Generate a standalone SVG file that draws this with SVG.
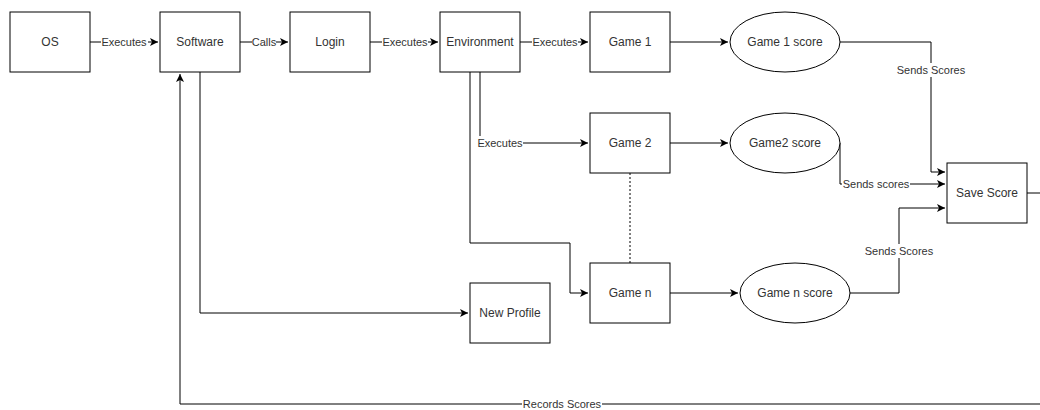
<svg xmlns="http://www.w3.org/2000/svg" width="1040" height="410" viewBox="0 0 1040 410">
<style>
.box{fill:#fff;stroke:#000;stroke-width:1}
.t{font-family:"Liberation Sans",Arial,sans-serif;font-size:12px;fill:#333;text-anchor:middle;dominant-baseline:central}
.e{font-family:"Liberation Sans",Arial,sans-serif;font-size:11px;fill:#333;text-anchor:middle;dominant-baseline:central}
.c{fill:none;stroke:#000;stroke-width:1}
.bg{fill:#fff}
</style>
<defs>
<marker id="arr" markerUnits="userSpaceOnUse" markerWidth="10" markerHeight="8" refX="8" refY="4" orient="auto">
<path d="M0,0 L8,4 L0,8 L2,4 Z" fill="#000"/>
</marker>
</defs>
<g id="connectors">
<path class="c" d="M90,42 H158" marker-end="url(#arr)"/>
<path class="c" d="M240,42 H288" marker-end="url(#arr)"/>
<path class="c" d="M370,42 H438" marker-end="url(#arr)"/>
<path class="c" d="M520,42 H588" marker-end="url(#arr)"/>
<path class="c" d="M670,42 H728" marker-end="url(#arr)"/>
<path class="c" d="M480,72 V143 H588" marker-end="url(#arr)"/>
<path class="c" d="M470,72 V243 H570 V293 H588" marker-end="url(#arr)"/>
<path class="c" d="M670,143 H728" marker-end="url(#arr)"/>
<path class="c" d="M670,293 H738" marker-end="url(#arr)"/>
<path class="c" d="M630,173 V263" stroke-dasharray="2,2"/>
<path class="c" d="M840,42 H931 V172 H945" marker-end="url(#arr)"/>
<path class="c" d="M840,143 V184 H945" marker-end="url(#arr)"/>
<path class="c" d="M850,293 H899 V208 H945" marker-end="url(#arr)"/>
<path class="c" d="M200,72 V313 H468" marker-end="url(#arr)"/>
<path class="c" d="M1027,193 H1045 V404 H180 V74" marker-end="url(#arr)"/>
<rect class="bg" x="101" y="35" width="47" height="14"/>
<text class="e" x="124" y="42">Executes</text>
<rect class="bg" x="252" y="35" width="24" height="14"/>
<text class="e" x="264" y="42">Calls</text>
<rect class="bg" x="382" y="35" width="46" height="14"/>
<text class="e" x="405" y="42">Executes</text>
<rect class="bg" x="532" y="35" width="46" height="14"/>
<text class="e" x="555" y="42">Executes</text>
<rect class="bg" x="477" y="136" width="46" height="14"/>
<text class="e" x="500" y="143">Executes</text>
<rect class="bg" x="897" y="63" width="68" height="14"/>
<text class="e" x="931" y="70">Sends Scores</text>
<rect class="bg" x="842" y="177" width="68" height="14"/>
<text class="e" x="876" y="184">Sends scores</text>
<rect class="bg" x="865" y="244" width="68" height="14"/>
<text class="e" x="899" y="251">Sends Scores</text>
<rect class="bg" x="522" y="397" width="80" height="14"/>
<text class="e" x="562" y="404">Records Scores</text>
</g>
<g id="os"><rect class="box" x="10" y="12" width="80" height="60"/><text class="t" x="50" y="42">OS</text></g>
<g id="software"><rect class="box" x="160" y="12" width="80" height="60"/><text class="t" x="200" y="42">Software</text></g>
<g id="login"><rect class="box" x="290" y="12" width="80" height="60"/><text class="t" x="330" y="42">Login</text></g>
<g id="environment"><rect class="box" x="440" y="12" width="80" height="60"/><text class="t" x="480" y="42">Environment</text></g>
<g id="game1"><rect class="box" x="590" y="12" width="80" height="60"/><text class="t" x="630" y="42">Game 1</text></g>
<g id="game1score"><ellipse class="box" cx="785" cy="42" rx="55" ry="30"/><text class="t" x="785" y="42">Game 1 score</text></g>
<g id="game2"><rect class="box" x="590" y="113" width="80" height="60"/><text class="t" x="630" y="143">Game 2</text></g>
<g id="game2score"><ellipse class="box" cx="785" cy="143" rx="55" ry="30"/><text class="t" x="785" y="143">Game2 score</text></g>
<g id="gamen"><rect class="box" x="590" y="263" width="80" height="60"/><text class="t" x="630" y="293">Game n</text></g>
<g id="gamenscore"><ellipse class="box" cx="795" cy="293" rx="55" ry="30"/><text class="t" x="795" y="293">Game n score</text></g>
<g id="savescore"><rect class="box" x="947" y="163" width="80" height="60"/><text class="t" x="987" y="193">Save Score</text></g>
<g id="newprofile"><rect class="box" x="470" y="283" width="80" height="60"/><text class="t" x="510" y="313">New Profile</text></g>
</svg>
